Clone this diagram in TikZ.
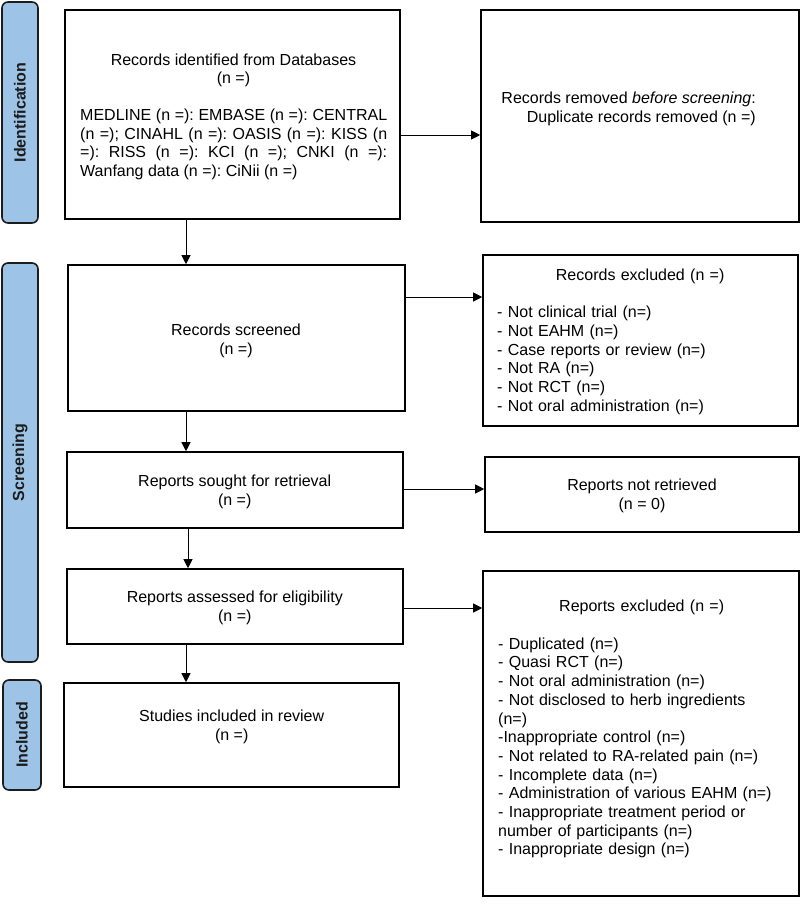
\documentclass[tikz,border=0pt]{standalone}
\usepackage{fontspec}
\setmainfont{Liberation Sans}
\usetikzlibrary{arrows.meta}
\definecolor{barblue}{HTML}{9DC3E6}
\definecolor{barline}{HTML}{1C1C1C}
\newcommand{\jline}[1]{\makebox[307pt][s]{#1}}
\begin{document}
\frenchspacing
\begin{tikzpicture}[x=1pt,y=-1pt,
  box/.style={draw=black, line width=1.6pt, inner sep=0pt, fill=white},
  bar/.style={draw=barline, line width=1.6pt, fill=barblue, rounded corners=6pt, inner sep=0pt},
  barlabel/.style={rotate=90, inner sep=0pt, font=\fontsize{16}{19}\selectfont\bfseries, text=barline},
  txt/.style={inner sep=0pt, font=\fontsize{16}{18.7}\selectfont},
  arr/.style={line width=1pt, -{Triangle[length=9pt,width=9pt]}},
]
\useasboundingbox (0,0) rectangle (800,906);
% phase bars
\node[bar, minimum width=36pt, minimum height=221pt] (idbar) at (20,112.5) {};
\node[barlabel] (idlab) at (idbar.center) {Identification};
\node[bar, minimum width=36pt, minimum height=399pt] (scbar) at (20,462.5) {};
\node[barlabel] (sclab) at (scbar.center) {Screening};
\node[bar, minimum width=38pt, minimum height=110pt] (inbar) at (22,735) {};
\node[barlabel] (inlab) at (inbar.center) {Included};
% boxes
\node[box, minimum width=335pt, minimum height=209pt] (ident) at (232.5,114.5) {};
\node[box, minimum width=318pt, minimum height=212pt] (removed) at (640,116) {};
\node[box, minimum width=337pt, minimum height=146pt] (screened) at (236.5,338) {};
\node[box, minimum width=315pt, minimum height=171pt] (excl1) at (640.5,340.5) {};
\node[box, minimum width=336pt, minimum height=76pt] (sought) at (235,490) {};
\node[box, minimum width=314pt, minimum height=75pt] (notret) at (642,494.5) {};
\node[box, minimum width=336pt, minimum height=75pt] (assessed) at (235,606.5) {};
\node[box, minimum width=316pt, minimum height=325pt] (excl2) at (641,733.5) {};
\node[box, minimum width=335pt, minimum height=104pt] (included) at (231.5,735) {};
% texts
\node[txt, align=center, anchor=north] (identtitle) at (233.5,53.5) {Records identified from Databases\\ (n =)};
\node[txt, align=left, anchor=north west] (identtxt) at (80,108.5) {%
  \jline{MEDLINE (n =): EMBASE (n =): CENTRAL}\\
  \jline{(n =); CINAHL (n =): OASIS (n =): KISS (n}\\
  \jline{=): RISS (n =): KCI (n =); CNKI (n =):}\\
  Wanfang data (n =): CiNii (n =)};
\node[txt, align=right, anchor=north east] (removedtxt) at (756,91.5) {Records removed \textit{before screening}:\\ Duplicate records removed (n =)};
\node[txt, align=center, anchor=north] (screenedtxt) at (236,323.5) {Records screened\\ (n =)};
\node[txt, text width=286pt, anchor=north west] (excl1txt) at (497,268.4) {%
  {\centering Records excluded (n =)\par}\vspace{18.7pt}
  \raggedright\noindent - Not clinical trial (n=)\\ - Not EAHM (n=)\\ - Case reports or review (n=)\\ - Not RA (n=)\\ - Not RCT (n=)\\ - Not oral administration (n=)};
\node[txt, align=center, anchor=north] (soughttxt) at (234.7,475) {Reports sought for retrieval\\ (n =)};
\node[txt, align=center, anchor=north] (notrettxt) at (642,479) {Reports not retrieved\\ (n = 0)};
\node[txt, align=center, anchor=north] (assessedtxt) at (234.8,591) {Reports assessed for eligibility\\ (n =)};
\node[txt, text width=287pt, anchor=north west] (excl2txt) at (498,600) {%
  {\centering Reports excluded (n =)\par}\vspace{18.7pt}
  \raggedright\noindent - Duplicated (n=)\\ - Quasi RCT (n=)\\ - Not oral administration (n=)\\ - Not disclosed to herb ingredients\\ (n=)\\ -Inappropriate control (n=)\\ - Not related to RA-related pain (n=)\\ - Incomplete data (n=)\\ - Administration of various EAHM (n=)\\ - Inappropriate treatment period or\\ number of participants (n=)\\ - Inappropriate design (n=)};
\node[txt, align=center, anchor=north] (includedtxt) at (231.7,710) {Studies included in review\\ (n =)};
% connectors
\coordinate (vx) at (186,0);
\coordinate (vxb) at (188,0);
\coordinate (h1) at (0,135);
\coordinate (h2) at (0,297);
\coordinate (h3) at (0,489);
\coordinate (h4) at (0,608);
\draw[arr] (ident.south -| vx) -- (screened.north -| vx);
\draw[arr] (screened.south -| vx) -- (sought.north -| vx);
\draw[arr] (sought.south -| vxb) -- (assessed.north -| vxb);
\draw[arr] (assessed.south -| vx) -- (included.north -| vx);
\draw[arr] (ident.east |- h1) -- (removed.west |- h1);
\draw[arr] (screened.east |- h2) -- (excl1.west |- h2);
\draw[arr] (sought.east |- h3) -- (notret.west |- h3);
\draw[arr] (assessed.east |- h4) -- (excl2.west |- h4);
\end{tikzpicture}
\end{document}
